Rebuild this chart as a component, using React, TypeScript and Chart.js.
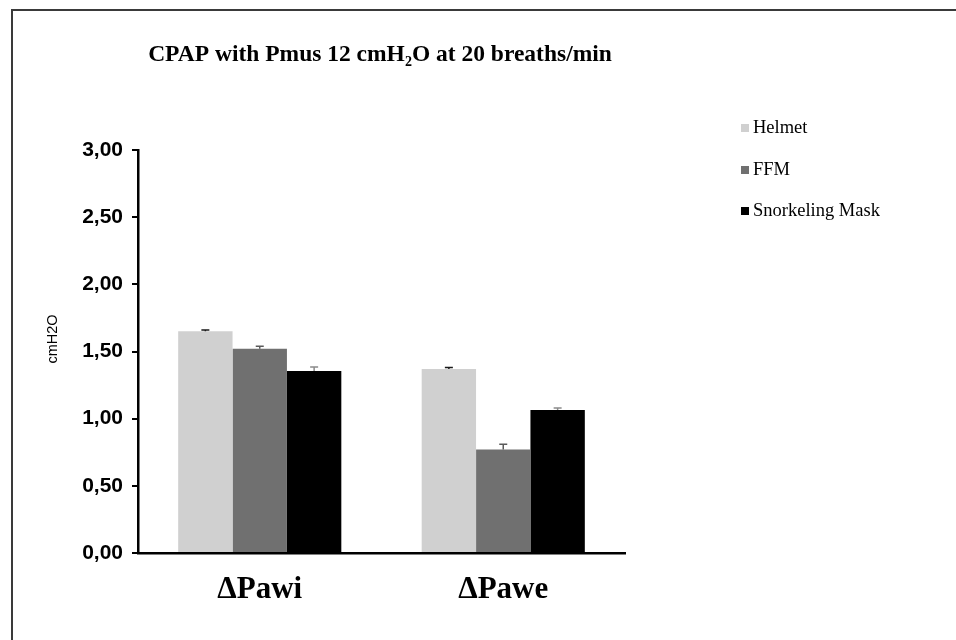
import React, { useEffect, useRef } from "react";
import { Chart, registerables } from "chart.js";

Chart.register(...registerables);

const categories = ["ΔPawi", "ΔPawe"];
const seriesNames = ["Helmet", "FFM", "Snorkeling Mask"];
const helmetValues = [1.65, 1.37];
const ffmValues = [1.52, 0.77];
const snorkelValues = [1.355, 1.065];
const helmetErrors = [0.01, 0.01];
const ffmErrors = [0.02, 0.04];
const snorkelErrors = [0.03, 0.015];
const barColors = ["#d0d0d0", "#707070", "#000000"];
const errorColors = ["#1a1a1a", "#5a5a5a", "#8a8a8a"];
const yTicks = [0, 0.5, 1, 1.5, 2, 2.5, 3];

const errorBarPlugin = {
  id: "errorBars",
  afterDatasetsDraw(chart: any) {
    const ctx = chart.ctx;
    const yScale = chart.scales.y;
    chart.data.datasets.forEach((ds: any, i: number) => {
      const meta = chart.getDatasetMeta(i);
      meta.data.forEach((bar: any, j: number) => {
        const v = ds.data[j];
        const e = ds.errors[j];
        const y0 = yScale.getPixelForValue(v);
        const y1 = yScale.getPixelForValue(v + e);
        ctx.save();
        ctx.strokeStyle = ds.errorColor;
        ctx.lineWidth = 1.5;
        ctx.beginPath();
        ctx.moveTo(bar.x, y0);
        ctx.lineTo(bar.x, y1);
        ctx.moveTo(bar.x - 4, y1);
        ctx.lineTo(bar.x + 4, y1);
        ctx.stroke();
        ctx.restore();
      });
    });
  },
};

const decorPlugin = {
  id: "decor",
  afterDraw(chart: any) {
    const ctx = chart.ctx;
    ctx.save();
    // frame
    ctx.strokeStyle = "#3a3a3a";
    ctx.lineWidth = 2;
    ctx.beginPath();
    ctx.moveTo(12, 640);
    ctx.lineTo(12, 10);
    ctx.lineTo(956, 10);
    ctx.stroke();

    // title with subscript
    ctx.fillStyle = "#000";
    ctx.textBaseline = "alphabetic";
    const big = "bold 23.5px 'Liberation Serif'";
    const small = "bold 14px 'Liberation Serif'";
    const p1 = "CPAP with Pmus 12 cmH";
    const p2 = "2";
    const p3 = "O at 20 breaths/min";
    ctx.font = big;
    const w1 = ctx.measureText(p1).width;
    const w3 = ctx.measureText(p3).width;
    ctx.font = small;
    const w2 = ctx.measureText(p2).width;
    const total = w1 + w2 + w3;
    let x = 380 - total / 2;
    const y = 61;
    ctx.font = big;
    ctx.fillText(p1, x, y);
    x += w1;
    ctx.font = small;
    ctx.fillText(p2, x, y + 5);
    x += w2;
    ctx.font = big;
    ctx.fillText(p3, x, y);

    // y axis title
    ctx.save();
    ctx.translate(53, 339);
    ctx.rotate(-Math.PI / 2);
    ctx.font = "14.5px 'Liberation Sans'";
    ctx.textAlign = "center";
    ctx.textBaseline = "middle";
    ctx.fillText("cmH2O", 0, 0);
    ctx.restore();

    // legend
    const rows = [128, 170, 211];
    chart.data.datasets.forEach((ds: any, i: number) => {
      ctx.fillStyle = ds.backgroundColor;
      ctx.fillRect(741, rows[i] - 4, 8, 8);
      ctx.fillStyle = "#000";
      ctx.font = "18.5px 'Liberation Serif'";
      ctx.textAlign = "left";
      ctx.textBaseline = "middle";
      ctx.fillText(ds.label, 753, rows[i]);
    });
    ctx.restore();
  },
};

export default function App() {
  const ref = useRef<HTMLCanvasElement>(null);
  useEffect(() => {
    if (!ref.current) return;
    const values = [helmetValues, ffmValues, snorkelValues];
    const errors = [helmetErrors, ffmErrors, snorkelErrors];
    const chart = new Chart(ref.current, {
      type: "bar",
      data: {
        labels: categories,
        datasets: seriesNames.map((name, i) => ({
          label: name,
          data: values[i],
          errors: errors[i],
          errorColor: errorColors[i],
          backgroundColor: barColors[i],
          borderWidth: 0,
          barPercentage: 1,
          categoryPercentage: 0.67,
        })) as any,
      },
      options: {
        responsive: false,
        animation: false,
        layout: { padding: { left: 0, right: 331, top: 150, bottom: 0 } },
        plugins: {
          legend: { display: false },
          title: { display: false },
          tooltip: { enabled: false },
        },
        scales: {
          x: {
            grid: { display: false, drawTicks: false },
            border: { color: "#000", width: 2.5 },
            ticks: {
              color: "#000",
              padding: 18,
              font: { family: "'Liberation Serif'", weight: "bold", size: 31 },
            },
            afterFit(s: any) {
              s.height = 87;
            },
          },
          y: {
            min: 0,
            max: 3,
            afterBuildTicks(s: any) {
              s.ticks = yTicks.map((v) => ({ value: v }));
            },
            grid: {
              drawOnChartArea: false,
              drawTicks: true,
              tickLength: 6,
              color: "#000",
              lineWidth: 2,
            },
            border: { color: "#000", width: 2.5 },
            ticks: {
              color: "#000",
              padding: 9,
              font: { family: "'Liberation Sans'", weight: "bold", size: 21 },
              callback: (v: any) => Number(v).toFixed(2).replace(".", ","),
            },
            afterFit(s: any) {
              s.width = 138;
            },
          },
        },
      },
      plugins: [errorBarPlugin, decorPlugin],
    });
    return () => chart.destroy();
  }, []);
  return (
    <div style={{ position: "fixed", left: 0, top: 0, width: 956, height: 640, background: "#fff" }}>
      <canvas ref={ref} width={956} height={640} />
    </div>
  );
}
